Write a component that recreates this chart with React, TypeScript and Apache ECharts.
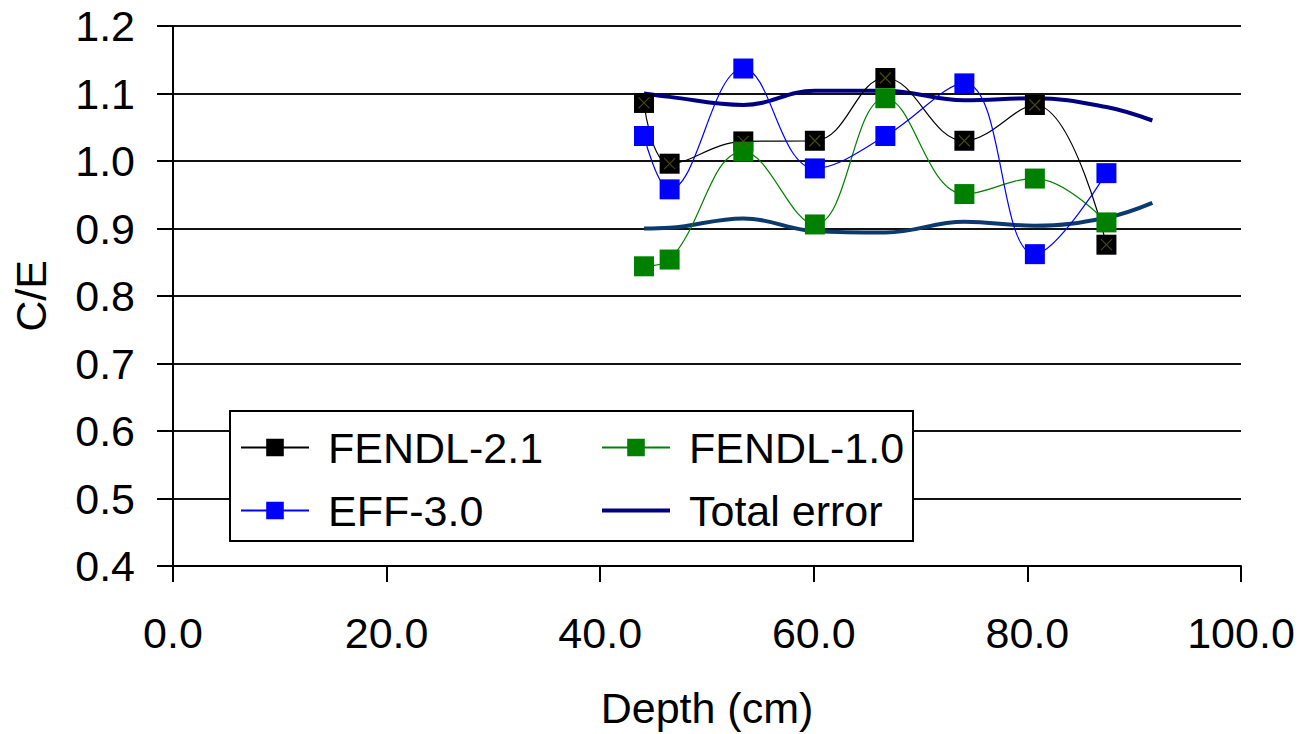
import React, { useEffect, useRef } from "react";
import * as echarts from "echarts";

const depth = [44.1, 46.5, 53.4, 60.1, 66.7, 74.1, 80.7, 87.4];
const fendl21 = [1.086, 0.996, 1.029, 1.030, 1.123, 1.030, 1.083, 0.876];
const fendl10 = [0.844, 0.854, 1.014, 0.906, 1.093, 0.951, 0.974, 0.909];
const eff30 = [1.037, 0.958, 1.137, 0.989, 1.037, 1.115, 0.862, 0.982];
const errDepth = [44.1, 46.5, 53.4, 60.1, 66.7, 74.1, 80.7, 87.4, 91.7];
const errUpper = [1.100, 1.095, 1.083, 1.104, 1.104, 1.090, 1.093, 1.080, 1.060];
const errLower = [0.900, 0.901, 0.915, 0.896, 0.894, 0.910, 0.904, 0.916, 0.938];

const FONT = "'Liberation Sans', Arial, sans-serif";
const FS = 43;

const pairs = (xs: number[], ys: number[]) => xs.map((x, i) => [x, ys[i]]);

export default function App() {
  const ref = useRef<HTMLDivElement>(null);
  useEffect(() => {
    if (!ref.current) return;
    const chart = echarts.init(ref.current, undefined, { renderer: "svg" });
    const legendText = { color: "#000", fontSize: FS, fontFamily: FONT, lineHeight: 42, padding: [0, 0, 0, 14] };
    chart.setOption({
      animation: false,
      backgroundColor: "#fff",
      grid: { left: 173, top: 26, right: 62, bottom: 168, containLabel: false },
      xAxis: {
        type: "value",
        min: 0,
        max: 100,
        interval: 20,
        name: "Depth (cm)",
        nameLocation: "middle",
        nameGap: 120,
        nameTextStyle: { color: "#000", fontSize: FS, fontFamily: FONT },
        axisLine: { show: true, onZero: false, lineStyle: { color: "#000", width: 2 } },
        axisTick: { show: true, length: 16, lineStyle: { color: "#000", width: 2 } },
        axisLabel: { color: "#000", fontSize: FS, fontFamily: FONT, margin: 45, formatter: (v: number) => v.toFixed(1) },
        splitLine: { show: false },
      },
      yAxis: {
        type: "value",
        min: 0.4,
        max: 1.2,
        interval: 0.1,
        name: "C/E",
        nameLocation: "middle",
        nameGap: 121,
        nameRotate: 90,
        nameTextStyle: { color: "#000", fontSize: FS, fontFamily: FONT },
        axisLine: { show: true, lineStyle: { color: "#000", width: 2 } },
        axisTick: { show: true, length: 16, lineStyle: { color: "#000", width: 2 } },
        axisLabel: { color: "#000", fontSize: FS, fontFamily: FONT, margin: 38, formatter: (v: number) => v.toFixed(1) },
        splitLine: { show: true, lineStyle: { color: "#111", width: 2 } },
      },
      legend: [
        {
          data: ["FENDL-2.1", "EFF-3.0"],
          orient: "vertical",
          left: 240,
          top: 426,
          padding: 0,
          itemGap: 20,
          itemWidth: 68,
          itemHeight: 22,
          z: 10,
          textStyle: legendText,
        },
        {
          data: [
            "FENDL-1.0",
            { name: "Total error", itemStyle: { opacity: 0 }, lineStyle: { opacity: 1, width: 4, color: "#000080" } },
          ],
          orient: "vertical",
          left: 600,
          top: 426,
          padding: 0,
          itemGap: 20,
          itemWidth: 68,
          itemHeight: 22,
          z: 10,
          textStyle: legendText,
        },
      ],
      graphic: [
        {
          type: "rect",
          z: 5,
          shape: { x: 230, y: 411, width: 683, height: 130 },
          style: { fill: "#fff", stroke: "#000", lineWidth: 2 },
        },
      ],
      series: [
        {
          name: "Total error",
          type: "line",
          data: pairs(errDepth, errUpper),
          smooth: 0.4,
          symbol: "none",
          lineStyle: { color: "#000080", width: 4 },
          itemStyle: { color: "#000080" },
          z: 1,
        },
        {
          name: "Total error",
          type: "line",
          data: pairs(errDepth, errLower),
          smooth: 0.4,
          symbol: "none",
          lineStyle: { color: "#0B3A6E", width: 4 },
          itemStyle: { color: "#0B3A6E" },
          z: 1,
        },
        {
          name: "FENDL-2.1",
          type: "line",
          data: pairs(depth, fendl21),
          smooth: 0.4,
          symbol: "rect",
          symbolSize: 20,
          lineStyle: { color: "#000", width: 1.2 },
          itemStyle: { color: "#000" },
          z: 2,
        },
        {
          name: "FENDL-2.1 x",
          type: "scatter",
          data: pairs(depth, fendl21),
          symbol: "path://M0,0L10,10M10,0L0,10",
          symbolSize: 11,
          itemStyle: { color: "none", borderColor: "#5a5a10", borderWidth: 1.2 },
          z: 3,
          silent: true,
        },
        {
          name: "FENDL-1.0",
          type: "line",
          data: pairs(depth, fendl10),
          smooth: 0.4,
          symbol: "rect",
          symbolSize: 20,
          lineStyle: { color: "#008000", width: 1.2 },
          itemStyle: { color: "#008000" },
          z: 2,
        },
        {
          name: "EFF-3.0",
          type: "line",
          data: pairs(depth, eff30),
          smooth: 0.4,
          symbol: "rect",
          symbolSize: 20,
          lineStyle: { color: "#0000FF", width: 1.2 },
          itemStyle: { color: "#0000FF" },
          z: 2,
        },
      ],
    });
    return () => chart.dispose();
  }, []);
  return (
    <div
      ref={ref}
      style={{ position: "fixed", left: 0, top: 0, width: 1303, height: 734, background: "#fff" }}
    />
  );
}
